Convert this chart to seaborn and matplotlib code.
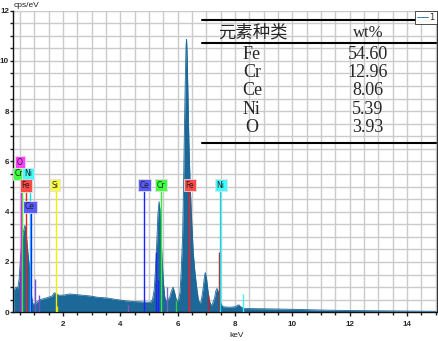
import matplotlib
matplotlib.use("Agg")
import matplotlib.pyplot as plt
import seaborn as sns
import pandas as pd
from matplotlib import font_manager
from matplotlib.ticker import MultipleLocator

# EDS spectrum (keV, cps/eV)
energy_kev = [0.30, 0.31, 0.36, 0.42, 0.47, 0.52, 0.57, 0.62, 0.67, 0.71, 0.75, 0.80,
              0.85, 0.89, 0.93, 0.98, 1.04, 1.10, 1.20, 1.35, 1.50, 1.62, 1.70, 1.76,
              1.85, 2.00, 2.24, 2.50, 2.94, 3.20, 3.52, 3.80, 4.10, 4.40, 4.68, 4.90,
              5.05, 5.12, 5.18, 5.23, 5.27, 5.31, 5.35, 5.38, 5.42, 5.46, 5.50, 5.55,
              5.60, 5.66, 5.72, 5.78, 5.84, 5.89, 5.94, 5.98, 6.03, 6.08, 6.12, 6.17,
              6.20, 6.23, 6.26, 6.29, 6.31, 6.33, 6.36, 6.39, 6.43, 6.48, 6.54, 6.60,
              6.66, 6.72, 6.78, 6.82, 6.88, 6.93, 6.96, 7.00, 7.05, 7.10, 7.15, 7.20,
              7.28, 7.33, 7.37, 7.42, 7.47, 7.52, 7.58, 7.80, 8.00, 8.12, 8.20, 8.30,
              9.00, 10.0, 11.0, 12.0, 13.0, 14.0, 15.0]
counts = [0.0, 0.9, 1.0, 0.95, 1.3, 2.2, 2.9, 3.2, 3.45, 3.3, 2.7, 2.1,
          1.6, 0.8, 0.4, 0.3, 0.35, 0.42, 0.5, 0.55, 0.6, 0.65, 0.78, 0.75,
          0.68, 0.68, 0.73, 0.70, 0.65, 0.6, 0.57, 0.52, 0.47, 0.43, 0.42, 0.4,
          0.4, 0.5, 0.9, 1.8, 2.8, 3.9, 4.4, 4.1, 3.0, 2.0, 1.2, 0.6,
          0.45, 0.5, 0.6, 0.85, 1.0, 0.8, 0.55, 0.45, 0.5, 0.8, 1.6, 3.0,
          4.8, 7.0, 9.0, 10.6, 10.85, 10.2, 8.5, 6.8, 5.2, 3.8, 2.4, 1.6,
          1.0, 0.5, 0.35, 0.45, 0.9, 1.4, 1.58, 1.4, 0.9, 0.5, 0.3, 0.3,
          0.55, 0.85, 0.95, 0.8, 0.5, 0.3, 0.22, 0.2, 0.22, 0.3, 0.22, 0.15,
          0.14, 0.12, 0.09, 0.07, 0.06, 0.05, 0.04]

# element markers with labels
marker_names = ["O", "Cr", "Ni", "Fe", "Ce", "Si", "Ce", "Cr", "Fe", "Ni"]
marker_kev = [0.52, 0.57, 0.85, 0.70, 0.88, 1.74, 4.84, 5.41, 6.40, 7.48]
label_kev = [0.50, 0.46, 0.78, 0.71, 0.85, 1.72, 4.84, 5.41, 6.42, 7.50]
label_level = [5.94, 5.50, 5.50, 5.05, 4.19, 5.06, 5.06, 5.06, 5.06, 5.06]
element_colors = {"O": "#ff40ff", "Cr": "#40ff40", "Ni": "#40ffff",
                  "Fe": "#ff4a4a", "Ce": "#5a5aff", "Si": "#ffff40"}
line_colors = {"O": "#ff00ff", "Cr": "#33ee33", "Ni": "#00e0f0",
               "Fe": "#ee2020", "Ce": "#2020ff", "Si": "#f0f000"}

# smaller family lines
minor_kev = [1.04, 1.16, 1.80, 4.26, 5.26, 5.30, 5.61, 5.94, 6.39, 7.07, 7.45, 8.26]
minor_height = [1.34, 0.68, 0.24, 0.3, 2.4, 1.3, 1.0, 0.5, 2.4, 0.68, 2.4, 0.74]
minor_colors = ["#7050d0", "#7050d0", "#e0e000", "#9050c0", "#2020ff", "#2020ff",
                "#8060c0", "#33cc33", "#ee2020", "#cc2020", "#b02020", "#40f0ff"]

# quantification table
table_elements = ["Fe", "Cr", "Ce", "Ni", "O"]
table_wt = ["54.60", "12.96", "8.06", "5.39", "3.93"]

spec = pd.DataFrame({"keV": energy_kev, "cps": counts})

sns.set_style("white")
try:
    font_manager.findfont("Liberation Sans Narrow", fallback_to_default=False)
    tick_font = "Liberation Sans Narrow"
except Exception:
    tick_font = "Liberation Sans"
plt.rcParams["font.family"] = ["DejaVu Sans"]

fig = plt.figure(figsize=(4.38, 3.41), dpi=100)
ax = fig.add_axes([12.7 / 438, (341 - 312.3) / 341, 424 / 438, 301.8 / 341])

fill_col = "#1c6898"
ax.fill_between(spec["keV"], spec["cps"], color=fill_col, lw=0, zorder=2)
sns.lineplot(data=spec, x="keV", y="cps", ax=ax, color=fill_col, lw=0.6,
             label="1", zorder=3)

# minor lines
ax.vlines(minor_kev, 0, minor_height, colors=minor_colors, lw=1.0, zorder=4)

# labelled marker lines
for name, kev, lv in zip(marker_names, marker_kev, label_level):
    ax.vlines(kev, 0, lv, colors=line_colors[name], lw=1.0, zorder=4)
for name, lk, lv in zip(marker_names, label_kev, label_level):
    ax.text(lk, lv, name, ha="center", va="center", fontsize=5.5, color="#202020",
            zorder=6,
            bbox=dict(boxstyle="square,pad=0.25", fc=element_colors[name],
                      ec="#e0e0e0", lw=0.6))

ax.set_xlim(0.247, 15.03)
ax.set_ylim(0, 12)
ax.xaxis.set_major_locator(MultipleLocator(2))
ax.xaxis.set_minor_locator(MultipleLocator(0.5))
ax.yaxis.set_major_locator(MultipleLocator(2))
ax.yaxis.set_minor_locator(MultipleLocator(0.5))
ax.grid(which="both", color="#cbcbcb", lw=1.0, zorder=0)
ax.set_axisbelow(True)
ax.tick_params(which="major", direction="out", length=2, width=1, color="#222222",
               labelsize=5.8, pad=0.6, bottom=True, left=True)
ax.tick_params(which="minor", direction="out", length=2, width=1, color="#222222",
               bottom=True, left=True)
ax.tick_params(axis="x", which="major", length=3, pad=3)
for lab in ax.get_xticklabels() + ax.get_yticklabels():
    lab.set_fontweight("bold")
    lab.set_family(tick_font)
ax.set_xlabel("")
ax.set_ylabel("")
for side in ["left", "bottom"]:
    ax.spines[side].set_color("#111111")
    ax.spines[side].set_linewidth(1.0)
ax.spines["right"].set_color("#333333")
ax.spines["top"].set_visible(False)

ax.text(0.003, 1.018, "cps/eV", transform=ax.transAxes, fontsize=6, ha="left",
        va="center", color="#222222", family=tick_font)
ax.text(0.529, -0.078, "keV", transform=ax.transAxes, fontsize=6, ha="center",
        va="center", color="#222222", family=tick_font)

# table
x0, x1 = 0.4465, 0.998
for yy in [0.9685, 0.891, 0.560]:
    ax.plot([x0, x1], [yy, yy], transform=ax.transAxes, color="black", lw=1.5,
            clip_on=False, zorder=7)
ax.text(0.567, 0.927, "元素种类", transform=ax.transAxes, fontsize=12.5,
        ha="center", va="center", family=["Noto Sans CJK SC", "DejaVu Sans"], zorder=7)
ax.text(0.838, 0.927, "wt%", transform=ax.transAxes, fontsize=12,
        ha="center", va="center", family="Liberation Serif", zorder=7)
for i, (el, wt) in enumerate(zip(table_elements, table_wt)):
    yy = 0.853 - i * 0.0598
    ax.text(0.564, yy, el, transform=ax.transAxes, fontsize=13, ha="center",
            va="center", family="Liberation Serif", zorder=7)
    ax.text(0.838, yy, wt, transform=ax.transAxes, fontsize=13, ha="center",
            va="center", family="Liberation Serif", zorder=7)

leg = ax.legend(loc="upper right", bbox_to_anchor=(1.0, 1.0), fontsize=6,
                handlelength=1.3, handletextpad=0.2, borderpad=0.25,
                borderaxespad=0.0, fancybox=False, framealpha=1, edgecolor="#333333")
leg.get_frame().set_linewidth(0.6)
leg.set_zorder(8)

fig.savefig("out.png", dpi=100)
plt.close(fig)
